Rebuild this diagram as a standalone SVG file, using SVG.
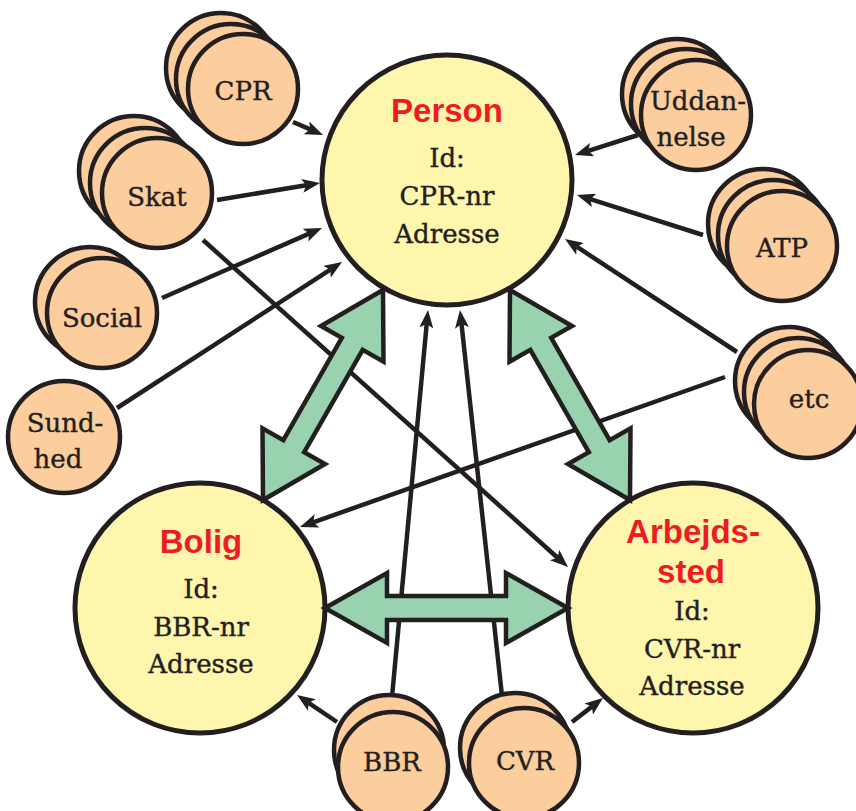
<svg xmlns="http://www.w3.org/2000/svg" width="856" height="811" viewBox="0 0 856 811">
<style>
.sm{fill:#FCCE9E;stroke:#231F20;stroke-width:4.5}
.big{fill:#FFF6AD;stroke:#231F20;stroke-width:5}
.t{font-family:"DejaVu Serif","Liberation Serif",serif;font-size:26px;fill:#231F20;stroke:#231F20;stroke-width:0.4;text-anchor:middle}
.h{font-family:"Liberation Sans","Open Sans",sans-serif;font-weight:700;font-size:33px;fill:#ED1C24;text-anchor:middle}
.ln{stroke:#231F20;stroke-width:4.5;fill:none;marker-end:url(#ah)}
.ga{fill:#98D2AE;stroke:#231F20;stroke-width:4.5;stroke-linejoin:miter;stroke-miterlimit:10}
</style>
<defs>
<marker id="ah" markerUnits="userSpaceOnUse" markerWidth="18" markerHeight="14" refX="4" refY="7" orient="auto" viewBox="0 0 18 14">
<path d="M0,0 L18,7 L0,14 L4,7 z" fill="#231F20"/>
</marker>
</defs>
<rect width="856" height="811" fill="#FFFFFF"/>

<g id="person">
<circle class="big" cx="447" cy="180" r="125"/>
<text class="h" x="447" y="122">Person</text>
<text class="t" x="447" y="167">Id:</text>
<text class="t" x="447" y="205">CPR-nr</text>
<text class="t" x="447" y="243">Adresse</text>
</g>
<g id="bolig">
<circle class="big" cx="200" cy="608" r="125"/>
<text class="h" x="201" y="553">Bolig</text>
<text class="t" x="201" y="598">Id:</text>
<text class="t" x="201" y="636">BBR-nr</text>
<text class="t" x="201" y="673">Adresse</text>
</g>
<g id="arbejdssted">
<circle class="big" cx="693" cy="608" r="125"/>
<text class="h" x="693" y="543">Arbejds-</text>
<text class="h" x="691" y="583">sted</text>
<text class="t" x="692" y="620">Id:</text>
<text class="t" x="692" y="658">CVR-nr</text>
<text class="t" x="692" y="695">Adresse</text>
</g>

<g id="cpr">
<circle class="sm" cx="221" cy="68" r="55"/>
<circle class="sm" cx="231" cy="79" r="55"/>
<circle class="sm" cx="243" cy="89" r="55"/>
<text class="t" x="243" y="100">CPR</text>
</g>
<g id="skat">
<circle class="sm" cx="134" cy="171" r="55"/>
<circle class="sm" cx="145" cy="183" r="55"/>
<circle class="sm" cx="157" cy="193" r="55"/>
<text class="t" x="157" y="206">Skat</text>
</g>
<g id="social">
<circle class="sm" cx="90" cy="302" r="55"/>
<circle class="sm" cx="102" cy="313" r="55"/>
<text class="t" x="102" y="327">Social</text>
</g>
<g id="sundhed">
<circle class="sm" cx="64" cy="437" r="56"/>
<text class="t" x="65" y="432">Sund-</text>
<text class="t" x="58" y="468">hed</text>
</g>
<g id="uddannelse">
<circle class="sm" cx="677" cy="94" r="55"/>
<circle class="sm" cx="686" cy="104" r="55"/>
<circle class="sm" cx="696" cy="115" r="55"/>
<text class="t" x="698" y="110">Uddan-</text>
<text class="t" x="691" y="146">nelse</text>
</g>
<g id="atp">
<circle class="sm" cx="763" cy="224" r="55"/>
<circle class="sm" cx="773" cy="235" r="55"/>
<circle class="sm" cx="782" cy="246" r="55"/>
<text class="t" x="782" y="257">ATP</text>
</g>
<g id="etc">
<circle class="sm" cx="789" cy="381" r="54"/>
<circle class="sm" cx="798" cy="392" r="54"/>
<circle class="sm" cx="808" cy="404" r="54"/>
<text class="t" x="809" y="408">etc</text>
</g>
<g id="bbr">
<circle class="sm" cx="389" cy="750" r="55"/>
<circle class="sm" cx="393" cy="767" r="55"/>
<text class="t" x="392" y="771">BBR</text>
</g>
<g id="cvr">
<circle class="sm" cx="515" cy="748" r="55"/>
<circle class="sm" cx="524" cy="763" r="55"/>
<text class="t" x="525" y="770">CVR</text>
</g>

<g id="connectors">
<line class="ln" x1="293" y1="122" x2="310.2" y2="129.4"/>
<line class="ln" x1="217" y1="200" x2="306.2" y2="185.3"/>
<line class="ln" x1="162" y1="298" x2="309.2" y2="233.6"/>
<line class="ln" x1="117" y1="408" x2="330.3" y2="269.6"/>
<line class="ln" x1="203" y1="240" x2="557.6" y2="557.7"/>
<line class="ln" x1="725" y1="377" x2="313.2" y2="522.3"/>
<line class="ln" x1="737" y1="352" x2="576.7" y2="246.7"/>
<line class="ln" x1="703" y1="235" x2="590.3" y2="199.2"/>
<line class="ln" x1="638" y1="135" x2="588.3" y2="150.8"/>
<line class="ln" x1="392" y1="697" x2="426.7" y2="323.9"/>
<line class="ln" x1="502" y1="696" x2="461.5" y2="323.9"/>
<line class="ln" x1="337" y1="722" x2="308.6" y2="702.8"/>
<line class="ln" x1="572" y1="722" x2="591.9" y2="706.6"/>
<polygon class="ga" points="383,290 383.5,361.7 362.66,349.78 304.18,452.12 325,464 263,500 262.5,428.3 283.34,440.22 341.82,337.88 321,326"/>
<polygon class="ga" points="510,290 509.5,361.7 530.34,349.78 588.82,452.12 568,464 630,500 630.5,428.3 609.66,440.22 551.18,337.88 572,326"/>
<polygon class="ga" points="325,608 387,573 387,596 506,596 506,573 568,608 506,643 506,620 387,620 387,643"/>
</g>
</svg>
